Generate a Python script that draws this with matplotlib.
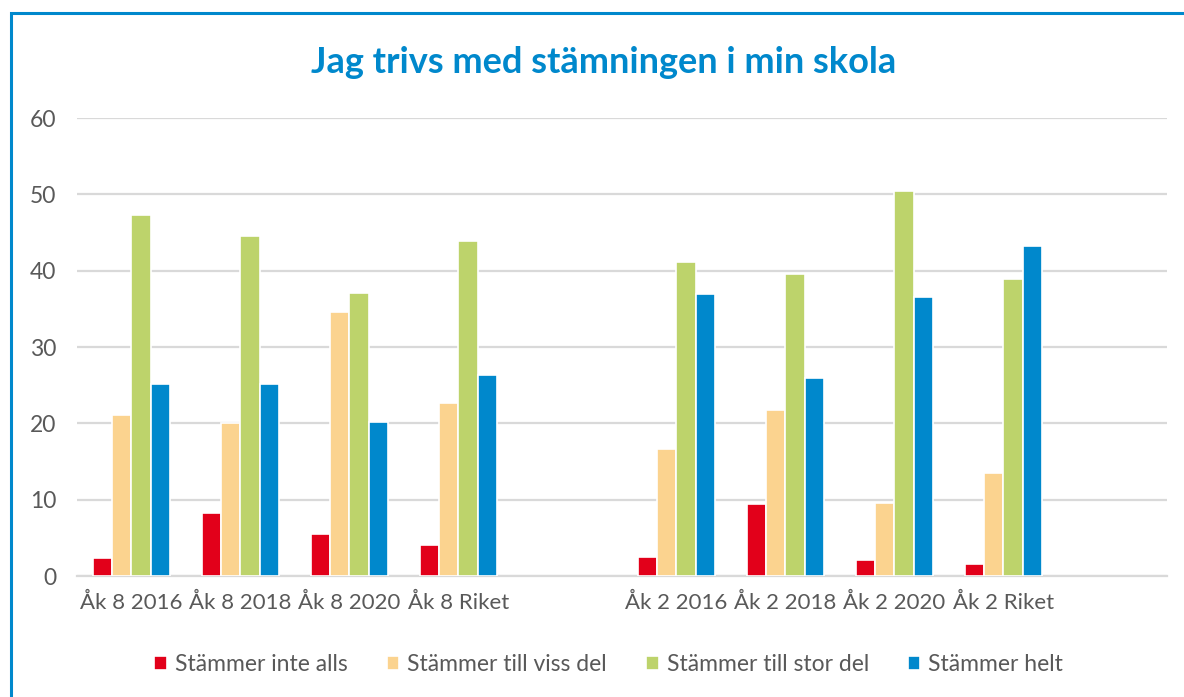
import numpy as np
import matplotlib.pyplot as plt
from matplotlib.patches import Rectangle

categories = ['Åk 8 2016', 'Åk 8 2018', 'Åk 8 2020', 'Åk 8 Riket', '',
              'Åk 2 2016', 'Åk 2 2018', 'Åk 2 2020', 'Åk 2 Riket', '']
series_names = ['Stämmer inte alls', 'Stämmer till viss del',
                'Stämmer till stor del', 'Stämmer helt']

inte_alls = [2.3, 8.3, 5.5, 4.1, np.nan, 2.5, 9.4, 2.1, 1.6, np.nan]
viss_del = [21.1, 20.0, 34.6, 22.7, np.nan, 16.7, 21.8, 9.6, 13.5, np.nan]
stor_del = [47.3, 44.6, 37.1, 43.9, np.nan, 41.2, 39.6, 50.4, 38.9, np.nan]
helt = [25.2, 25.2, 20.2, 26.3, np.nan, 36.9, 25.9, 36.6, 43.3, np.nan]

colors = ['#E2001A', '#FBD38F', '#BDD36B', '#0088CC']
gray = '#595959'

plt.rcParams['font.family'] = ['Lato', 'DejaVu Sans']

fig = plt.figure(figsize=(11.84, 6.97), dpi=100)
fig.patches.append(Rectangle((0.0093, -0.05), 1.2, 1.031, transform=fig.transFigure,
                             fill=False, edgecolor='#0088CC', linewidth=2.2))

ax = fig.add_axes([0.065, 0.1736, 0.9206, 0.657])

x = np.arange(len(categories))
pitch = 0.177
for i, (vals, name, col) in enumerate(zip([inte_alls, viss_del, stor_del, helt],
                                          series_names, colors)):
    ax.bar(x + (i - 1.5) * pitch, vals, width=pitch, color=col,
           edgecolor='white', linewidth=1.2, label=name, zorder=3)

ax.set_xlim(-0.5, len(categories) - 0.5)
ax.set_ylim(0, 60)
ax.set_yticks(range(0, 61, 10))
ax.yaxis.grid(True, color='#D9D9D9', linewidth=1.6, zorder=0)
ax.set_xticks(x)
ax.set_xticklabels(categories)
ax.tick_params(axis='x', length=0, labelsize=16, labelcolor=gray, pad=12)
ax.tick_params(axis='y', length=0, labelsize=16.5, labelcolor=gray, pad=15)
for s in ['top', 'right', 'left']:
    ax.spines[s].set_visible(False)
ax.spines['bottom'].set_color('#D9D9D9')
ax.spines['bottom'].set_linewidth(1.6)

fig.text(0.51, 0.91, 'Jag trivs med stämningen i min skola', ha='center', va='center',
         fontsize=26, fontweight='bold', color='#0088CC')

leg = ax.legend(loc='upper center', bbox_to_anchor=(0.488, -0.125), ncol=4,
                frameon=False, fontsize=16.5, handlelength=0.55, handleheight=0.55,
                handletextpad=0.35, columnspacing=1.7)
for t in leg.get_texts():
    t.set_color(gray)

fig.savefig('out.png', dpi=100)
